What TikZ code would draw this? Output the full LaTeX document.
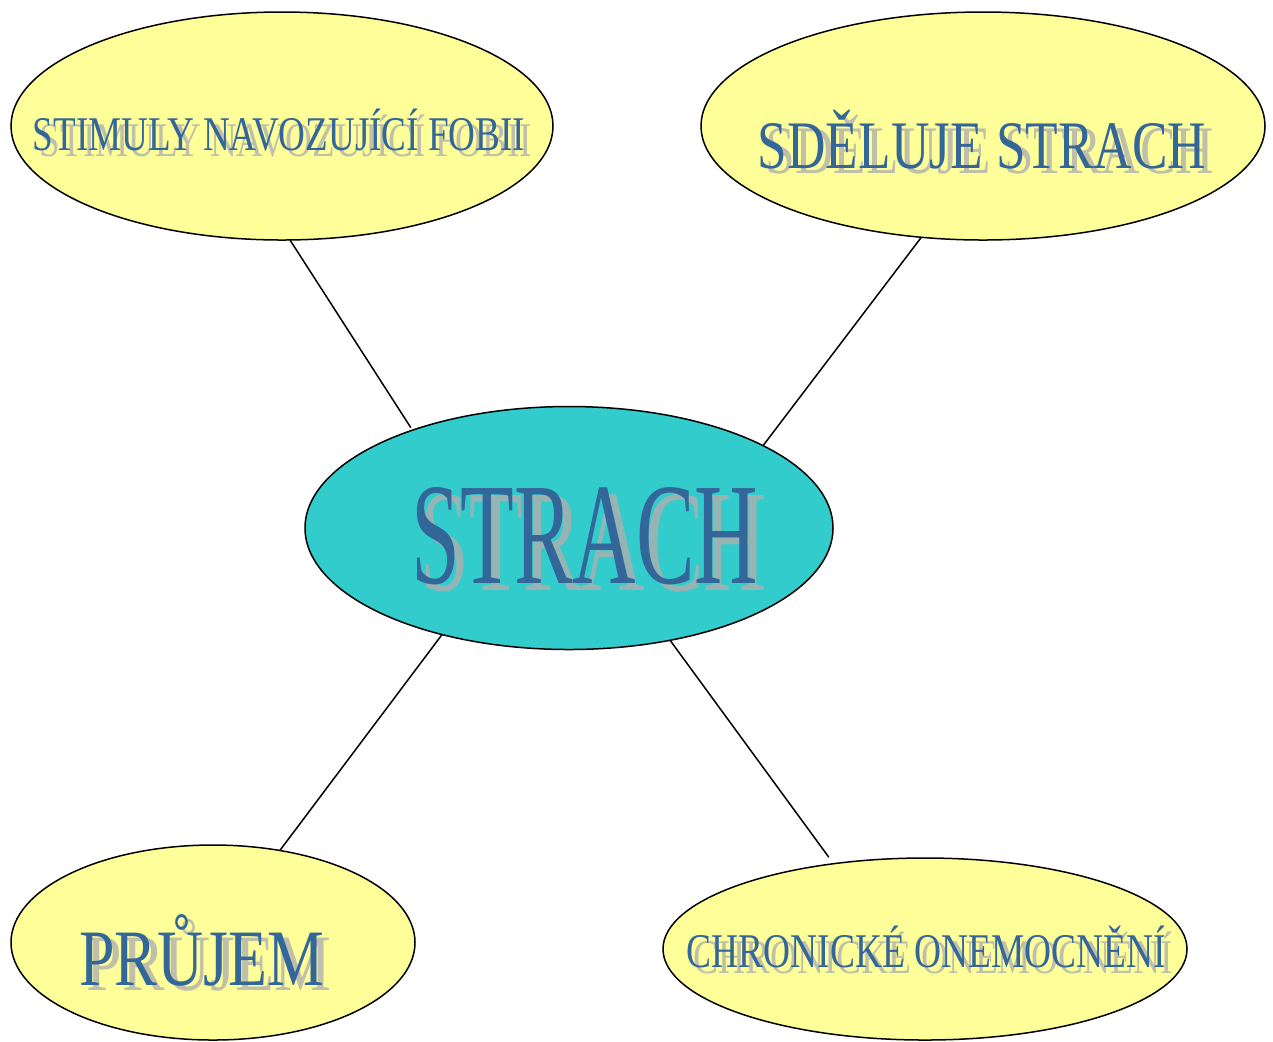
\documentclass[tikz,border=0pt]{standalone}
\usepackage{fontspec}
\setmainfont{Liberation Serif}
\usetikzlibrary{shapes.geometric}
\definecolor{pale}{HTML}{FFFF99}
\definecolor{teal2}{HTML}{33CCCC}
\definecolor{txtblue}{HTML}{336699}
\definecolor{shgray}{HTML}{AFAFAF}
\begin{document}
\begin{tikzpicture}[x=0.5pt,y=-0.5pt,
  bubble/.style={ellipse, draw=black, line width=0.75pt, inner sep=0pt, outer sep=0pt, fill=pale},
  link/.style={draw=black, line width=0.75pt},
  lbl/.style={anchor=base, inner sep=0pt, outer sep=0pt, text=txtblue},
  shd/.style={anchor=base, inner sep=0pt, outer sep=0pt, text=shgray, text opacity=0.8}]
\useasboundingbox (0,0) rectangle (1273,1041);

% ellipses
\node[bubble, minimum width=271pt, minimum height=114pt] (tl) at (282,126) {};
\node[bubble, minimum width=282pt, minimum height=114pt] (tr) at (983,126) {};
\node[bubble, fill=teal2, minimum width=264pt, minimum height=121.5pt] (c) at (569,528) {};
\node[bubble, minimum width=202pt, minimum height=97.5pt] (bl) at (213,942.5) {};
\node[bubble, minimum width=262pt, minimum height=91pt] (br) at (925,949) {};

% connectors
\draw[link, shorten >=1.5pt] (tl.-86) -- (c.148);
\draw[link] (tr.-119) -- (c.23);
\draw[link] (c.-140) -- (bl.54);
\draw[link, shorten >=4pt] (c.-48.5) -- (br.137);

% labels (shadow then text)
\node[shd] (cs) at (594,590) {\fontsize{72.5}{80}\selectfont\scalebox{0.606}[1]{STRACH}};
\node[lbl] (ct) at (585,583) {\fontsize{72.5}{80}\selectfont\scalebox{0.606}[1]{STRACH}};

\node[shd] (tls) at (286,156) {\fontsize{24.2}{28}\selectfont\scalebox{0.767}[1]{STIMULY NAVOZUJÍCÍ FOBII}};
\node[lbl] (tlt) at (279,150) {\fontsize{24.2}{28}\selectfont\scalebox{0.767}[1]{STIMULY NAVOZUJÍCÍ FOBII}};

\node[shd] (trs) at (990,173) {\fontsize{34}{40}\selectfont\scalebox{0.783}[1]{SDĚLUJE STRACH}};
\node[lbl] (trt) at (982,168) {\fontsize{34}{40}\selectfont\scalebox{0.783}[1]{SDĚLUJE STRACH}};

\node[shd] (bls) at (209,990) {\fontsize{40}{46}\selectfont\scalebox{0.798}[1]{PRŮJEM}};
\node[lbl] (blt) at (201.5,985) {\fontsize{40}{46}\selectfont\scalebox{0.798}[1]{PRŮJEM}};

\node[shd] (brs) at (933,973) {\fontsize{24.2}{28}\selectfont\scalebox{0.773}[1]{CHRONICKÉ ONEMOCNĚNÍ}};
\node[lbl] (brt) at (926.5,967) {\fontsize{24.2}{28}\selectfont\scalebox{0.773}[1]{CHRONICKÉ ONEMOCNĚNÍ}};
\end{tikzpicture}
\end{document}
